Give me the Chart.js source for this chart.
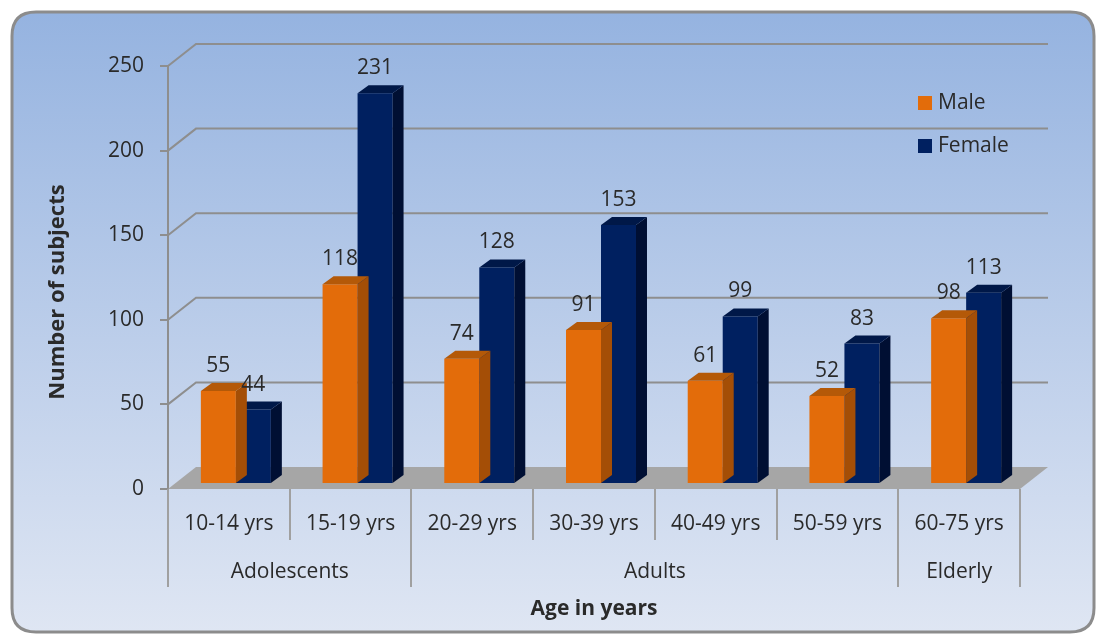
<!DOCTYPE html>
<html>
<head>
<meta charset="utf-8">
<title>Subjects by age group and sex</title>
<script src="https://cdn.jsdelivr.net/npm/chart.js@4.4.1/dist/chart.umd.min.js"></script>
<style>
  html, body { margin: 0; padding: 0; background: #ffffff; }
  canvas { display: block; }
</style>
</head>
<body>
<canvas id="chart" width="1097" height="636"></canvas>
<script>
// ---- data ----
const ageBands = ['10-14 yrs', '15-19 yrs', '20-29 yrs', '30-39 yrs', '40-49 yrs', '50-59 yrs', '60-75 yrs'];
const maleCounts = [55, 118, 74, 91, 61, 52, 98];
const femaleCounts = [44, 231, 128, 153, 99, 83, 113];
const groupNames = ['Adolescents', 'Adults', 'Elderly'];
const groupFirst = [0, 2, 6];
const groupLast = [1, 5, 6];
const yTickValues = [0, 50, 100, 150, 200, 250];
const yTitle = 'Number of subjects';
const xTitle = 'Age in years';

// ---- look ----
const FONT = '"Open Sans", "DejaVu Sans", sans-serif';
const TEXT = '#2a2a2a';
const LINE = '#8e8e8e';
const WALL_DX = 28, WALL_DY = -22;   // depth of the back wall
const BAR_DX = 7, BAR_DY = -5;       // bars sit a little behind the front edge
const DEPTH_X = 11, DEPTH_Y = -8;    // depth of each bar
const faceColors = [
  { front: '#e36c0a', side: '#a44e06', top: '#b45908' },
  { front: '#002060', side: '#000f33', top: '#001848' }
];

function roundRect(ctx, x, y, w, h, r) {
  ctx.beginPath();
  ctx.moveTo(x + r, y);
  ctx.lineTo(x + w - r, y);
  ctx.quadraticCurveTo(x + w, y, x + w, y + r);
  ctx.lineTo(x + w, y + h - r);
  ctx.quadraticCurveTo(x + w, y + h, x + w - r, y + h);
  ctx.lineTo(x + r, y + h);
  ctx.quadraticCurveTo(x, y + h, x, y + h - r);
  ctx.lineTo(x, y + r);
  ctx.quadraticCurveTo(x, y, x + r, y);
  ctx.closePath();
}

// panel background with a vertical blue gradient and rounded frame
const panelPlugin = {
  id: 'panel',
  beforeDraw(chart) {
    const ctx = chart.ctx;
    ctx.save();
    ctx.fillStyle = '#ffffff';
    ctx.fillRect(0, 0, chart.width, chart.height);
    const g = ctx.createLinearGradient(0, 12, 0, 632);
    g.addColorStop(0, '#95b3e0');
    g.addColorStop(1, '#dfe6f3');
    roundRect(ctx, 12, 12, 1082, 620, 24);
    ctx.fillStyle = g;
    ctx.fill();
    ctx.lineWidth = 3;
    ctx.strokeStyle = '#8c8c8c';
    ctx.stroke();
    ctx.restore();
  }
};

// back wall gridlines, side-wall diagonals and the grey floor
const wallsPlugin = {
  id: 'walls',
  beforeDatasetsDraw(chart) {
    const ctx = chart.ctx;
    const y = chart.scales.y;
    const x = chart.scales.x;
    const left = x.left, right = x.right;
    ctx.save();
    // floor
    const y0 = y.getPixelForValue(0);
    ctx.beginPath();
    ctx.moveTo(left, y0);
    ctx.lineTo(right, y0);
    ctx.lineTo(right + WALL_DX, y0 + WALL_DY);
    ctx.lineTo(left + WALL_DX, y0 + WALL_DY);
    ctx.closePath();
    ctx.fillStyle = '#a6a6a6';
    ctx.fill();
    // gridlines
    ctx.strokeStyle = LINE;
    ctx.lineWidth = 2;
    yTickValues.forEach(v => {
      if (v === 0) return;
      const py = y.getPixelForValue(v);
      ctx.beginPath();
      ctx.moveTo(left, py);
      ctx.lineTo(left + WALL_DX, py + WALL_DY);
      ctx.lineTo(right + WALL_DX, py + WALL_DY);
      ctx.stroke();
    });
    ctx.restore();
  }
};

// shift each bar set back and add its side and top faces
const bars3dPlugin = {
  id: 'bars3d',
  beforeDatasetDraw(chart) {
    chart.ctx.save();
    chart.ctx.translate(BAR_DX, BAR_DY);
  },
  afterDatasetDraw(chart, args) {
    const ctx = chart.ctx;
    const c = faceColors[args.index];
    args.meta.data.forEach(bar => {
      const p = bar.getProps(['x', 'y', 'base', 'width'], true);
      const l = p.x - p.width / 2, r = p.x + p.width / 2;
      ctx.beginPath();
      ctx.moveTo(r, p.y);
      ctx.lineTo(r + DEPTH_X, p.y + DEPTH_Y);
      ctx.lineTo(r + DEPTH_X, p.base + DEPTH_Y);
      ctx.lineTo(r, p.base);
      ctx.closePath();
      ctx.fillStyle = c.side;
      ctx.fill();
      ctx.beginPath();
      ctx.moveTo(l, p.y);
      ctx.lineTo(l + DEPTH_X, p.y + DEPTH_Y);
      ctx.lineTo(r + DEPTH_X, p.y + DEPTH_Y);
      ctx.lineTo(r, p.y);
      ctx.closePath();
      ctx.fillStyle = c.top;
      ctx.fill();
    });
    ctx.restore();
  },
  afterDatasetsDraw(chart) {
    const ctx = chart.ctx;
    ctx.save();
    ctx.font = '21px ' + FONT;
    ctx.fillStyle = TEXT;
    ctx.textAlign = 'center';
    ctx.textBaseline = 'middle';
    chart.data.datasets.forEach((ds, i) => {
      chart.getDatasetMeta(i).data.forEach((bar, j) => {
        const p = bar.getProps(['x', 'y'], true);
        ctx.fillText(String(ds.data[j]), p.x + BAR_DX, p.y + BAR_DY + DEPTH_Y - 17);
      });
    });
    ctx.restore();
  }
};

// category separators, group labels, y title and the legend
const axisExtrasPlugin = {
  id: 'axisExtras',
  afterDraw(chart) {
    const ctx = chart.ctx;
    const x = chart.scales.x;
    const y0 = chart.scales.y.getPixelForValue(0);
    const step = (x.right - x.left) / ageBands.length;
    ctx.save();
    ctx.strokeStyle = '#a0a0a0';
    ctx.lineWidth = 2;
    for (let i = 0; i <= ageBands.length; i++) {
      const px = Math.round(x.left + i * step);
      const isGroupEdge = i === 0 || i === ageBands.length || groupFirst.includes(i);
      ctx.beginPath();
      ctx.moveTo(px, y0);
      ctx.lineTo(px, isGroupEdge ? 587 : 540);
      ctx.stroke();
    }
    ctx.font = '21px ' + FONT;
    ctx.fillStyle = TEXT;
    ctx.textAlign = 'center';
    ctx.textBaseline = 'middle';
    groupNames.forEach((name, g) => {
      const cx = x.left + (groupFirst[g] + groupLast[g] + 1) / 2 * step;
      ctx.fillText(name, cx, 572);
    });
    // y axis title
    ctx.save();
    ctx.translate(58, 292);
    ctx.rotate(-Math.PI / 2);
    ctx.font = 'bold 22px ' + FONT;
    ctx.fillText(yTitle, 0, 0);
    ctx.restore();
    // legend
    ctx.textAlign = 'left';
    chart.data.datasets.forEach((ds, i) => {
      const ly = 103 + i * 43;
      ctx.fillStyle = ds.backgroundColor;
      ctx.fillRect(918, ly - 7, 14, 14);
      ctx.fillStyle = TEXT;
      ctx.fillText(ds.label, 938, ly);
    });
    ctx.restore();
  }
};

new Chart(document.getElementById('chart'), {
  type: 'bar',
  data: {
    labels: ageBands,
    datasets: [
      { label: 'Male', data: maleCounts, backgroundColor: faceColors[0].front },
      { label: 'Female', data: femaleCounts, backgroundColor: faceColors[1].front }
    ]
  },
  options: {
    responsive: false,
    devicePixelRatio: 1,
    animation: false,
    events: [],
    layout: { padding: { left: 0, top: 66, right: 77, bottom: 0 } },
    datasets: {
      bar: { categoryPercentage: 0.575, barPercentage: 1, borderWidth: 0, clip: false }
    },
    plugins: {
      legend: { display: false },
      tooltip: { enabled: false }
    },
    scales: {
      x: {
        afterFit(s) { s.height = 147; },
        grid: { display: false, drawTicks: false },
        border: { display: false },
        ticks: { color: TEXT, font: { family: FONT, size: 21 }, padding: 22, maxRotation: 0, autoSkip: false },
        title: { display: true, text: xTitle, color: TEXT, font: { family: FONT, size: 21, weight: 'bold' }, padding: { top: 0, bottom: 14 } }
      },
      y: {
        min: 0, max: 250,
        afterFit(s) { s.width = 168; },
        afterBuildTicks(s) { s.ticks = yTickValues.map(v => ({ value: v })); },
        grid: { drawOnChartArea: false, drawTicks: true, tickLength: 8, color: LINE, lineWidth: 2 },
        border: { display: true, color: LINE, width: 2 },
        ticks: { color: TEXT, font: { family: FONT, size: 21 }, padding: 16 },
        title: { display: false }
      }
    }
  },
  plugins: [panelPlugin, wallsPlugin, bars3dPlugin, axisExtrasPlugin]
});
</script>
</body>
</html>
